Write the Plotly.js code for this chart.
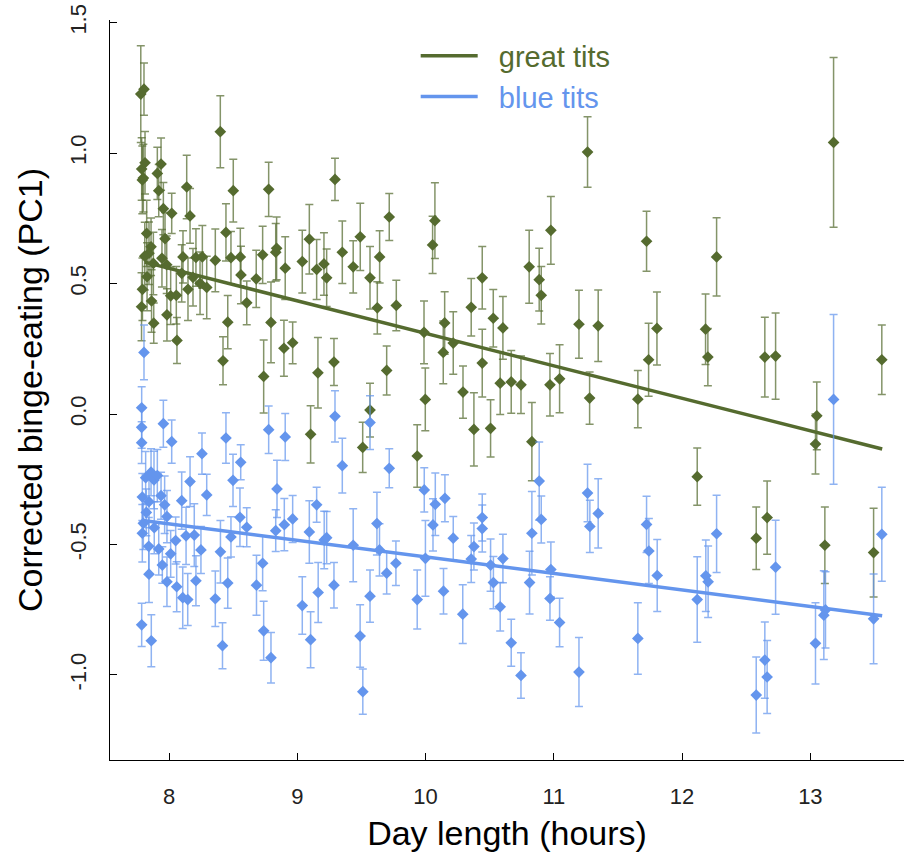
<!DOCTYPE html>
<html><head><meta charset="utf-8">
<script src="https://cdn.plot.ly/plotly-3.0.1.min.js"></script>
<style>html,body{margin:0;padding:0;background:#fff}#chart{width:904px;height:856px}</style>
</head><body><div id="chart"></div>
<script>
// Great tits: day length (h), corrected binge-eating (PC1), error (half-length)
const greatX = [7.780,7.805,8.400,7.787,7.813,7.792,7.800,7.909,7.938,7.920,
7.956,8.138,8.021,8.164,8.501,8.777,9.294,7.826,7.969,8.444,
9.094,9.491,9.717,7.860,7.844,7.811,7.945,8.109,8.210,8.260,
8.361,8.483,8.556,8.730,8.839,8.832,8.906,9.039,9.151,9.208,
9.229,9.351,9.436,9.567,9.642,7.878,7.982,7.829,7.793,8.099,
8.148,8.187,8.242,8.294,8.561,8.680,7.786,7.864,8.013,8.057,
7.881,7.984,8.062,8.458,8.606,8.795,9.624,9.772,8.421,8.738,
8.896,8.964,9.161,9.286,9.697,9.104,9.567,9.510,11.263,13.181,
10.073,10.055,10.977,11.723,12.269,10.808,10.886,10.902,10.442,10.356,
10.528,10.603,10.149,9.988,10.138,10.216,10.442,11.196,11.346,11.804,
11.739,12.183,12.201,12.645,12.729,13.557,9.998,10.292,10.582,10.668,
10.744,10.970,11.045,11.279,11.655,13.050,9.935,10.377,10.507,10.829,
13.040,12.118,12.578,12.663,13.113,13.493];
const greatY = [1.226,1.245,1.082,0.939,0.963,0.897,0.904,0.922,0.958,0.856,
0.787,0.870,0.769,0.759,0.856,0.861,0.899,0.692,0.672,0.696,
0.670,0.679,0.755,0.641,0.616,0.605,0.597,0.602,0.600,0.602,
0.589,0.599,0.602,0.610,0.635,0.620,0.559,0.584,0.554,0.575,
0.522,0.620,0.564,0.522,0.602,0.577,0.572,0.526,0.478,0.539,
0.478,0.524,0.501,0.485,0.533,0.518,0.411,0.433,0.453,0.455,
0.348,0.380,0.282,0.352,0.426,0.351,0.407,0.416,0.204,0.144,
0.252,0.273,0.158,0.199,0.167,-0.078,0.015,-0.128,1.004,1.041,
0.741,0.648,0.704,0.662,0.602,0.564,0.515,0.455,0.522,0.409,
0.367,0.330,0.349,0.313,0.236,0.272,0.195,0.344,0.338,0.328,
0.208,0.325,0.218,0.218,0.222,0.208,0.056,0.084,0.118,0.123,
0.112,0.112,0.135,0.061,0.057,-0.007,-0.161,-0.059,-0.055,-0.106,
-0.115,-0.240,-0.476,-0.397,-0.503,-0.531];
const greatErr = [0.185,0.10,0.138,0.12,0.12,0.13,0.13,0.10,0.10,0.10,
0.10,0.122,0.077,0.105,0.12,0.104,0.081,0.127,0.10,0.11,
0.133,0.129,0.09,0.11,0.12,0.13,0.11,0.10,0.11,0.12,
0.12,0.10,0.11,0.11,0.12,0.11,0.12,0.12,0.115,0.12,
0.11,0.12,0.10,0.12,0.10,0.12,0.11,0.13,0.12,0.11,
0.12,0.11,0.12,0.12,0.11,0.11,0.13,0.12,0.11,0.11,
0.077,0.10,0.088,0.102,0.084,0.155,0.10,0.097,0.092,0.14,
0.107,0.08,0.135,0.09,0.094,0.11,0.103,0.096,0.135,0.325,
0.145,0.11,0.13,0.115,0.15,0.14,0.12,0.11,0.12,0.11,
0.11,0.12,0.12,0.12,0.12,0.12,0.13,0.13,0.137,0.14,
0.14,0.135,0.11,0.153,0.165,0.133,0.12,0.10,0.12,0.12,
0.11,0.12,0.13,0.10,0.11,0.13,0.12,0.14,0.11,0.15,
0.115,0.11,0.12,0.14,0.147,0.17];

// Blue tits
const blueX = [7.805,7.787,7.787,7.787,7.956,8.021,8.257,8.444,8.559,8.499,
8.777,8.906,9.294,9.567,9.351,9.717,8.842,9.151,8.164,8.294,
8.099,7.818,7.860,7.883,7.909,7.792,7.844,7.938,7.966,7.984,
7.823,7.800,7.792,7.885,8.052,8.133,8.197,8.553,8.606,8.483,
8.832,8.899,8.964,9.094,9.210,9.229,9.436,9.621,9.641,9.769,
9.697,7.842,7.920,8.013,7.948,7.844,7.984,8.060,8.107,8.146,
8.210,8.249,8.401,8.361,8.458,8.730,8.682,9.039,9.163,9.286,
9.567,7.787,7.862,8.417,8.738,8.795,9.104,9.490,9.511,
9.990,10.076,10.058,10.151,10.216,10.377,10.356,10.442,10.442,10.507,
10.603,10.529,10.582,10.668,10.744,10.811,10.829,10.886,10.902,10.977,
10.970,11.045,9.935,9.999,10.140,10.290,11.196,11.263,11.281,11.346,
11.655,11.723,11.741,11.806,12.118,12.185,12.203,12.269,12.729,12.578,
12.645,12.663,13.040,13.105,13.118,13.181,13.493,13.557];
const blueY = [0.236,0.024,-0.051,-0.110,-0.037,-0.106,-0.152,-0.092,-0.185,-0.254,
-0.060,-0.088,-0.009,-0.033,-0.198,-0.208,-0.287,-0.348,-0.259,-0.310,
-0.332,-0.244,-0.223,-0.253,-0.236,-0.318,-0.336,-0.313,-0.348,-0.393,
-0.377,-0.419,-0.457,-0.436,-0.485,-0.467,-0.464,-0.396,-0.434,-0.471,
-0.447,-0.424,-0.402,-0.452,-0.483,-0.474,-0.503,-0.420,-0.521,-0.572,
-0.610,-0.507,-0.517,-0.536,-0.579,-0.614,-0.643,-0.662,-0.704,-0.711,
-0.639,-0.521,-0.528,-0.708,-0.648,-0.572,-0.656,-0.734,-0.684,-0.656,
-0.698,-0.808,-0.869,-0.888,-0.831,-0.934,-0.865,-0.851,-1.064,
-0.291,-0.346,-0.425,-0.323,-0.476,-0.508,-0.556,-0.397,-0.439,-0.579,
-0.554,-0.646,-0.739,-0.877,-1.002,-0.646,-0.457,-0.257,-0.404,-0.596,
-0.707,-0.799,-0.711,-0.553,-0.679,-0.767,-0.989,-0.303,-0.431,-0.381,
-0.860,-0.423,-0.525,-0.619,-0.711,-0.620,-0.643,-0.459,-0.587,-1.077,
-0.943,-1.008,-0.879,-0.771,-0.751,0.056,-0.785,-0.461];
const blueErr = [0.105,0.08,0.08,0.08,0.09,0.083,0.079,0.097,0.067,0.10,
0.091,0.09,0.098,0.103,0.105,0.075,0.11,0.067,0.095,0.079,
0.11,0.10,0.09,0.11,0.10,0.09,0.10,0.09,0.11,0.10,
0.09,0.10,0.11,0.10,0.09,0.11,0.12,0.112,0.075,0.077,
0.08,0.10,0.09,0.12,0.11,0.10,0.14,0.12,0.10,0.085,
0.08,0.11,0.10,0.09,0.07,0.108,0.095,0.096,0.118,0.10,
0.096,0.09,0.12,0.106,0.096,0.105,0.115,0.11,0.115,0.087,
0.10,0.083,0.10,0.088,0.113,0.097,0.107,0.12,0.087,
0.085,0.12,0.10,0.09,0.083,0.09,0.09,0.09,0.09,0.10,
0.093,0.10,0.093,0.09,0.087,0.12,0.16,0.15,0.09,0.105,
0.083,0.093,0.113,0.145,0.087,0.113,0.132,0.11,0.10,0.133,
0.137,0.108,0.125,0.138,0.164,0.137,0.137,0.148,0.18,0.146,
0.146,0.14,0.156,0.17,0.146,0.325,0.172,0.18];

// Fitted regression lines (read endpoints)
const fitX = [7.81, 13.56];
const greatFit = [0.582, -0.134];
const blueFit = [-0.409, -0.773];

const xTicks = [8, 9, 10, 11, 12, 13];
const yTicks = [-1.0, -0.5, 0.0, 0.5, 1.0, 1.5];
const yTickLabels = ['-1.0', '-0.5', '0.0', '0.5', '1.0', '1.5'];

const GREEN = '#556B2F', BLUE = '#6495ED';
const tickFont = {family: '"Liberation Sans Narrow", "Liberation Sans", Arial, sans-serif', size: 22, color: '#222'};
const NB = '\u00a0\u00a0';

const traces = [
  {type: 'scatter', mode: 'markers', x: greatX, y: greatY, showlegend: false, hoverinfo: 'skip',
   error_y: {type: 'data', array: greatErr, visible: true, color: 'rgba(85,107,47,0.72)', thickness: 1.5, width: 4},
   marker: {symbol: 'diamond', size: 9, color: GREEN}},
  {type: 'scatter', mode: 'lines', x: fitX, y: greatFit, name: NB + '<span style="color:#556B2F">great tits</span>',
   line: {color: GREEN, width: 3.5}},
  {type: 'scatter', mode: 'markers', x: blueX, y: blueY, showlegend: false, hoverinfo: 'skip',
   error_y: {type: 'data', array: blueErr, visible: true, color: 'rgba(100,149,237,0.72)', thickness: 1.5, width: 4},
   marker: {symbol: 'diamond', size: 9, color: BLUE}},
  {type: 'scatter', mode: 'lines', x: fitX, y: blueFit, name: NB + '<span style="color:#6495ED">blue tits</span>',
   line: {color: BLUE, width: 3.5}}
];

const layout = {
  width: 904, height: 856,
  margin: {l: 110, r: 0, t: 20, b: 96, pad: 0},
  paper_bgcolor: '#fff', plot_bgcolor: '#fff',
  font: {family: '"Liberation Sans", Arial, sans-serif', color: '#000'},
  showlegend: true,
  xaxis: {
    range: [7.54, 13.73], tickvals: xTicks, ticks: 'inside', ticklen: 7, tickwidth: 1, tickcolor: '#000',
    showline: true, linecolor: '#000', linewidth: 1, showgrid: false, zeroline: false,
    tickfont: tickFont, ticklabelstandoff: 17, automargin: false,
    title: {text: 'Day length (hours)', font: {size: 34, color: '#000'}, standoff: 12}
  },
  yaxis: {
    range: [-1.326, 1.51], tickvals: yTicks, ticktext: yTickLabels, tickangle: -90,
    ticks: 'inside', ticklen: 7, tickwidth: 1, tickcolor: '#000',
    showline: true, linecolor: '#000', linewidth: 1, showgrid: false, zeroline: false,
    tickfont: tickFont, ticklabelstandoff: 14, automargin: false,
    title: {text: 'Corrected binge-eating (PC1)', font: {size: 34, color: '#000'}, standoff: 13}
  },
  legend: {x: 0.385, y: 0.986, xanchor: 'left', yanchor: 'top', font: {size: 29},
           itemwidth: 57, bgcolor: 'rgba(0,0,0,0)', borderwidth: 0, tracegroupgap: 0}
};

Plotly.newPlot('chart', traces, layout, {staticPlot: true, displayModeBar: false});
</script>
</body></html>
